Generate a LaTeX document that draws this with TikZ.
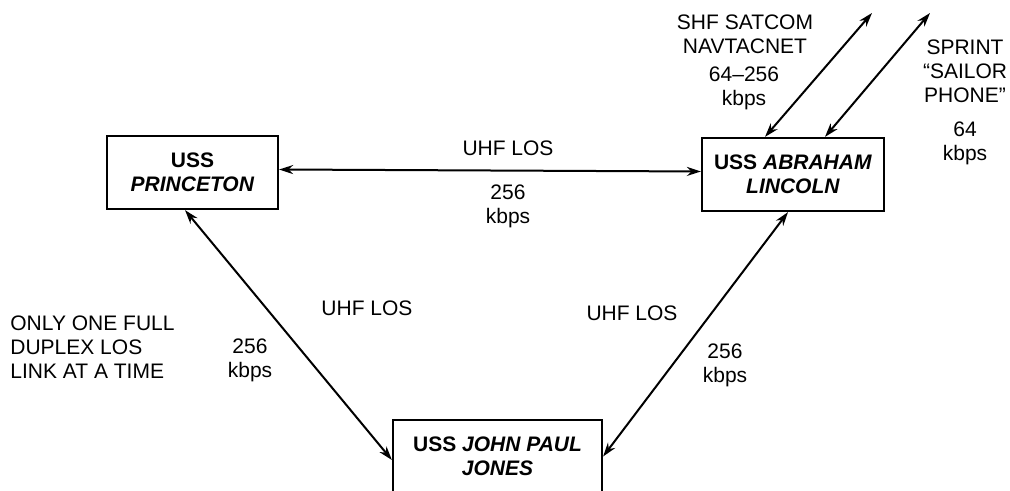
\documentclass[tikz,border=0pt]{standalone}
\usepackage{fontspec}
\setmainfont{Liberation Sans}
\usetikzlibrary{arrows.meta}

\begin{document}
\begin{tikzpicture}[x=0.5pt,y=-0.5pt,
    every node/.style={font=\fontsize{10.5}{12}\selectfont},
    ship/.style={draw,line width=1.1pt,minimum width=#1,minimum height=36.5pt,
        align=center,font=\fontsize{10.5}{12}\selectfont\bfseries,inner sep=0pt},
    link/.style={line width=1pt,
        {Stealth[length=7pt,width=4.5pt]}-{Stealth[length=7pt,width=4.5pt]}},
    lbl/.style={align=center,inner sep=0pt}
]
    \useasboundingbox (0,0) rectangle (1010,491);
    % ships
    \node[ship=85.5pt] (princeton) at (192.5,172.5) {USS\\\textit{PRINCETON}};
    \node[ship=91pt] (lincoln) at (793,174.5) {USS \textit{ABRAHAM}\\\textit{LINCOLN}};
    \node[ship=104.5pt] (jpj) at (497.5,456.5) {USS \textit{JOHN PAUL}\\\textit{JONES}};
    % satellite ends
    \coordinate (shf) at (872,13);
    \coordinate (sprint) at (930,13);
    % links
    \draw[link] ([yshift=1.5pt]princeton.east) -- ([yshift=1.5pt]lincoln.west);
    \draw[link] ([xshift=-3.75pt]princeton.south) -- ([yshift=-1.75pt]jpj.west);
    \draw[link] ([xshift=-2.5pt]lincoln.south) -- (jpj.east);
    \draw[link] ([xshift=-14pt]lincoln.north) -- (shf);
    \draw[link] ([xshift=16pt]lincoln.north) -- (sprint);
    % labels
    \node[lbl] (uhftop) at (508,148) {UHF LOS};
    \node[lbl] (ratetop) at (508,206.5) {256\\kbps};
    \node[lbl] (uhfleft) at (367,308) {UHF LOS};
    \node[lbl] (rateleft) at (250,360) {256\\kbps};
    \node[lbl,align=left,anchor=west] (note) at (10,347) {ONLY ONE FULL\\DUPLEX LOS\\LINK AT A TIME};
    \node[lbl] (uhfright) at (632,313) {UHF LOS};
    \node[lbl] (rateright) at (725,365) {256\\kbps};
    \node[lbl] (shflbl) at (745,34.5) {SHF SATCOM\\NAVTACNET};
    \node[lbl] (shfrate) at (744,88) {64–256\\kbps};
    \node[lbl] (sprintlbl) at (965,71) {SPRINT\\“SAILOR\\PHONE”};
    \node[lbl] (sprintrate) at (965,143) {64\\kbps};
\end{tikzpicture}
\end{document}
